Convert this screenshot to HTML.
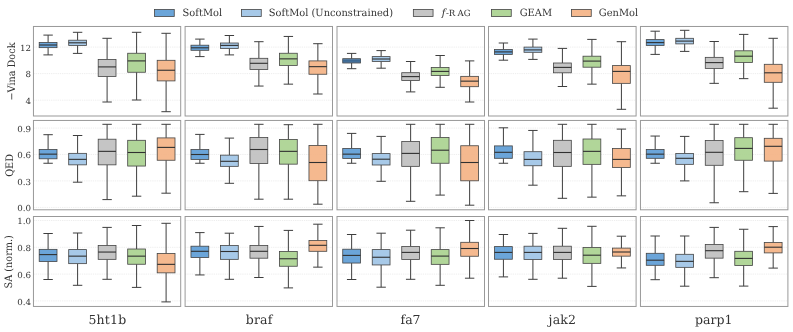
<!DOCTYPE html>
<html><head><meta charset="utf-8"><title>Boxplots</title>
<style>html,body{margin:0;padding:0;background:#fff}svg{display:block;will-change:transform}text{font-family:"DejaVu Serif","Liberation Serif",serif;fill:#333;text-rendering:geometricPrecision}.tk{font-size:8.4px;text-anchor:end;text-rendering:geometricPrecision}.yl{font-size:10px;text-anchor:middle}.xl{font-size:12.5px;text-anchor:middle}.lg{font-size:10.1px}</style></head><body>
<svg width="793" height="332" viewBox="0 0 793 332">
<rect width="793" height="332" fill="#fff"/>
<rect x="154.55" y="9.5" width="19.7" height="7" fill="#5B9BD5" fill-opacity="0.9" stroke="#444" stroke-width="0.8"/>
<text class="lg" transform="translate(182.60000000000002,16.45) scale(0.978,1)">SoftMol</text>
<rect x="241.55" y="9.5" width="19.7" height="7" fill="#9DC3E6" fill-opacity="0.9" stroke="#444" stroke-width="0.8"/>
<text class="lg" transform="translate(268.8,16.45) scale(0.978,1)">SoftMol (Unconstrained)</text>
<rect x="413.35" y="9.5" width="19.7" height="7" fill="#BFBFBF" fill-opacity="0.9" stroke="#444" stroke-width="0.8"/>
<text class="lg" y="16.0"><tspan x="441.7" y="16.2" font-style="italic" font-size="10px">f</tspan><tspan x="445.9 448.7 457.6 463.8" y="16.0" font-size="8.6px">-RAG</tspan></text>
<rect x="491.55" y="9.5" width="19.7" height="7" fill="#A9D18E" fill-opacity="0.9" stroke="#444" stroke-width="0.8"/>
<text class="lg" transform="translate(519.6999999999999,16.45) scale(0.978,1)">GEAM</text>
<rect x="571.55" y="9.5" width="19.7" height="7" fill="#F4B183" fill-opacity="0.9" stroke="#444" stroke-width="0.8"/>
<text class="lg" transform="translate(598.8,16.45) scale(0.978,1)">GenMol</text>
<text class="tk" transform="translate(31.1,50.95) scale(1.04,1)">12</text>
<text class="tk" transform="translate(31.1,77.45) scale(1.04,1)">8</text>
<text class="tk" transform="translate(31.1,104.05) scale(1.04,1)">4</text>
<text class="yl" transform="translate(14.6,71.53) rotate(-90) scale(0.97,1.03)">−Vina Dock</text>
<line x1="33.45" x2="180.70" y1="47.10" y2="47.10" stroke="#dcdcdc" stroke-width="0.5" stroke-dasharray="1.3,0.9"/>
<line x1="33.45" x2="180.70" y1="73.60" y2="73.60" stroke="#dcdcdc" stroke-width="0.5" stroke-dasharray="1.3,0.9"/>
<line x1="33.45" x2="180.70" y1="100.20" y2="100.20" stroke="#dcdcdc" stroke-width="0.5" stroke-dasharray="1.3,0.9"/>
<g stroke="#3e3e3e" stroke-width="1" fill="none"><path d="M48.10 35.10V42.40M48.10 47.65V54.90M43.40 35.10H52.80M43.40 54.90H52.80"/></g>
<rect x="39.20" y="42.40" width="17.8" height="5.25" fill="#5B9BD5" fill-opacity="0.9" stroke="#444" stroke-width="0.8"/>
<line x1="39.20" x2="57.00" y1="45.00" y2="45.00" stroke="#303030" stroke-width="1.1"/>
<g stroke="#3e3e3e" stroke-width="1" fill="none"><path d="M77.60 32.30V40.20M77.60 45.40V53.40M72.90 32.30H82.30M72.90 53.40H82.30"/></g>
<rect x="68.70" y="40.20" width="17.8" height="5.20" fill="#9DC3E6" fill-opacity="0.9" stroke="#444" stroke-width="0.8"/>
<line x1="68.70" x2="86.50" y1="42.80" y2="42.80" stroke="#303030" stroke-width="1.1"/>
<g stroke="#3e3e3e" stroke-width="1" fill="none"><path d="M107.10 38.30V59.40M107.10 76.45V102.00M102.40 38.30H111.80M102.40 102.00H111.80"/></g>
<rect x="98.20" y="59.40" width="17.8" height="17.05" fill="#BFBFBF" fill-opacity="0.9" stroke="#444" stroke-width="0.8"/>
<line x1="98.20" x2="116.00" y1="66.90" y2="66.90" stroke="#303030" stroke-width="1.1"/>
<g stroke="#3e3e3e" stroke-width="1" fill="none"><path d="M136.60 32.30V53.25M136.60 72.25V100.00M131.90 32.30H141.30M131.90 100.00H141.30"/></g>
<rect x="127.70" y="53.25" width="17.8" height="19.00" fill="#A9D18E" fill-opacity="0.9" stroke="#444" stroke-width="0.8"/>
<line x1="127.70" x2="145.50" y1="60.90" y2="60.90" stroke="#303030" stroke-width="1.1"/>
<g stroke="#3e3e3e" stroke-width="1" fill="none"><path d="M166.10 33.30V60.30M166.10 80.90V111.70M161.40 33.30H170.80M161.40 111.70H170.80"/></g>
<rect x="157.20" y="60.30" width="17.8" height="20.60" fill="#F4B183" fill-opacity="0.9" stroke="#444" stroke-width="0.8"/>
<line x1="157.20" x2="175.00" y1="70.25" y2="70.25" stroke="#303030" stroke-width="1.1"/>
<rect x="33.45" y="26.47" width="147.25" height="89.53" fill="none" stroke="#999" stroke-width="1"/>
<line x1="185.10" x2="332.50" y1="47.10" y2="47.10" stroke="#dcdcdc" stroke-width="0.5" stroke-dasharray="1.3,0.9"/>
<line x1="185.10" x2="332.50" y1="73.60" y2="73.60" stroke="#dcdcdc" stroke-width="0.5" stroke-dasharray="1.3,0.9"/>
<line x1="185.10" x2="332.50" y1="100.20" y2="100.20" stroke="#dcdcdc" stroke-width="0.5" stroke-dasharray="1.3,0.9"/>
<g stroke="#3e3e3e" stroke-width="1" fill="none"><path d="M199.87 39.10V45.20M199.87 50.30V56.60M195.17 39.10H204.57M195.17 56.60H204.57"/></g>
<rect x="190.97" y="45.20" width="17.8" height="5.10" fill="#5B9BD5" fill-opacity="0.9" stroke="#444" stroke-width="0.8"/>
<line x1="190.97" x2="208.77" y1="47.80" y2="47.80" stroke="#303030" stroke-width="1.1"/>
<g stroke="#3e3e3e" stroke-width="1" fill="none"><path d="M229.37 35.50V43.00M229.37 48.40V54.90M224.67 35.50H234.07M224.67 54.90H234.07"/></g>
<rect x="220.47" y="43.00" width="17.8" height="5.40" fill="#9DC3E6" fill-opacity="0.9" stroke="#444" stroke-width="0.8"/>
<line x1="220.47" x2="238.27" y1="45.40" y2="45.40" stroke="#303030" stroke-width="1.1"/>
<g stroke="#3e3e3e" stroke-width="1" fill="none"><path d="M258.87 41.70V58.30M258.87 69.50V86.05M254.17 41.70H263.57M254.17 86.05H263.57"/></g>
<rect x="249.97" y="58.30" width="17.8" height="11.20" fill="#BFBFBF" fill-opacity="0.9" stroke="#444" stroke-width="0.8"/>
<line x1="249.97" x2="267.77" y1="63.30" y2="63.30" stroke="#303030" stroke-width="1.1"/>
<g stroke="#3e3e3e" stroke-width="1" fill="none"><path d="M288.37 36.45V53.25M288.37 65.40V84.15M283.67 36.45H293.07M283.67 84.15H293.07"/></g>
<rect x="279.47" y="53.25" width="17.8" height="12.15" fill="#A9D18E" fill-opacity="0.9" stroke="#444" stroke-width="0.8"/>
<line x1="279.47" x2="297.27" y1="58.85" y2="58.85" stroke="#303030" stroke-width="1.1"/>
<g stroke="#3e3e3e" stroke-width="1" fill="none"><path d="M317.87 43.70V60.90M317.87 74.25V94.00M313.17 43.70H322.57M313.17 94.00H322.57"/></g>
<rect x="308.97" y="60.90" width="17.8" height="13.35" fill="#F4B183" fill-opacity="0.9" stroke="#444" stroke-width="0.8"/>
<line x1="308.97" x2="326.77" y1="66.65" y2="66.65" stroke="#303030" stroke-width="1.1"/>
<rect x="185.10" y="26.47" width="147.40" height="89.53" fill="none" stroke="#999" stroke-width="1"/>
<line x1="337.00" x2="484.50" y1="47.10" y2="47.10" stroke="#dcdcdc" stroke-width="0.5" stroke-dasharray="1.3,0.9"/>
<line x1="337.00" x2="484.50" y1="73.60" y2="73.60" stroke="#dcdcdc" stroke-width="0.5" stroke-dasharray="1.3,0.9"/>
<line x1="337.00" x2="484.50" y1="100.20" y2="100.20" stroke="#dcdcdc" stroke-width="0.5" stroke-dasharray="1.3,0.9"/>
<g stroke="#3e3e3e" stroke-width="1" fill="none"><path d="M351.64 53.40V58.70M351.64 63.00V68.70M346.94 53.40H356.34M346.94 68.70H356.34"/></g>
<rect x="342.74" y="58.70" width="17.8" height="4.30" fill="#42719f" fill-opacity="0.9" stroke="#444" stroke-width="0.8"/>
<line x1="342.74" x2="360.54" y1="60.90" y2="60.90" stroke="#3b6791" stroke-width="1.6"/>
<g stroke="#3e3e3e" stroke-width="1" fill="none"><path d="M381.14 50.60V56.60M381.14 61.50V68.20M376.44 50.60H385.84M376.44 68.20H385.84"/></g>
<rect x="372.24" y="56.60" width="17.8" height="4.90" fill="#9DC3E6" fill-opacity="0.9" stroke="#444" stroke-width="0.8"/>
<line x1="372.24" x2="390.04" y1="59.00" y2="59.00" stroke="#303030" stroke-width="1.1"/>
<g stroke="#3e3e3e" stroke-width="1" fill="none"><path d="M410.64 61.50V72.70M410.64 80.50V91.90M405.94 61.50H415.34M405.94 91.90H415.34"/></g>
<rect x="401.74" y="72.70" width="17.8" height="7.80" fill="#BFBFBF" fill-opacity="0.9" stroke="#444" stroke-width="0.8"/>
<line x1="401.74" x2="419.54" y1="76.60" y2="76.60" stroke="#303030" stroke-width="1.1"/>
<g stroke="#3e3e3e" stroke-width="1" fill="none"><path d="M440.14 55.50V67.40M440.14 75.50V87.30M435.44 55.50H444.84M435.44 87.30H444.84"/></g>
<rect x="431.24" y="67.40" width="17.8" height="8.10" fill="#A9D18E" fill-opacity="0.9" stroke="#444" stroke-width="0.8"/>
<line x1="431.24" x2="449.04" y1="71.40" y2="71.40" stroke="#303030" stroke-width="1.1"/>
<g stroke="#3e3e3e" stroke-width="1" fill="none"><path d="M469.64 60.90V76.35M469.64 86.70V102.00M464.94 60.90H474.34M464.94 102.00H474.34"/></g>
<rect x="460.74" y="76.35" width="17.8" height="10.35" fill="#F4B183" fill-opacity="0.9" stroke="#444" stroke-width="0.8"/>
<line x1="460.74" x2="478.54" y1="81.15" y2="81.15" stroke="#303030" stroke-width="1.1"/>
<rect x="337.00" y="26.47" width="147.50" height="89.53" fill="none" stroke="#999" stroke-width="1"/>
<line x1="488.50" x2="636.10" y1="47.10" y2="47.10" stroke="#dcdcdc" stroke-width="0.5" stroke-dasharray="1.3,0.9"/>
<line x1="488.50" x2="636.10" y1="73.60" y2="73.60" stroke="#dcdcdc" stroke-width="0.5" stroke-dasharray="1.3,0.9"/>
<line x1="488.50" x2="636.10" y1="100.20" y2="100.20" stroke="#dcdcdc" stroke-width="0.5" stroke-dasharray="1.3,0.9"/>
<g stroke="#3e3e3e" stroke-width="1" fill="none"><path d="M503.41 43.00V49.50M503.41 54.40V60.20M498.71 43.00H508.11M498.71 60.20H508.11"/></g>
<rect x="494.51" y="49.50" width="17.8" height="4.90" fill="#5B9BD5" fill-opacity="0.9" stroke="#444" stroke-width="0.8"/>
<line x1="494.51" x2="512.31" y1="51.90" y2="51.90" stroke="#303030" stroke-width="1.1"/>
<g stroke="#3e3e3e" stroke-width="1" fill="none"><path d="M532.91 39.10V47.10M532.91 52.30V59.40M528.21 39.10H537.61M528.21 59.40H537.61"/></g>
<rect x="524.01" y="47.10" width="17.8" height="5.20" fill="#9DC3E6" fill-opacity="0.9" stroke="#444" stroke-width="0.8"/>
<line x1="524.01" x2="541.81" y1="49.90" y2="49.90" stroke="#303030" stroke-width="1.1"/>
<g stroke="#3e3e3e" stroke-width="1" fill="none"><path d="M562.41 48.40V63.00M562.41 72.80V86.50M557.71 48.40H567.11M557.71 86.50H567.11"/></g>
<rect x="553.51" y="63.00" width="17.8" height="9.80" fill="#BFBFBF" fill-opacity="0.9" stroke="#444" stroke-width="0.8"/>
<line x1="553.51" x2="571.31" y1="67.40" y2="67.40" stroke="#303030" stroke-width="1.1"/>
<g stroke="#3e3e3e" stroke-width="1" fill="none"><path d="M591.91 39.40V56.20M591.91 67.20V84.15M587.21 39.40H596.61M587.21 84.15H596.61"/></g>
<rect x="583.01" y="56.20" width="17.8" height="11.00" fill="#A9D18E" fill-opacity="0.9" stroke="#444" stroke-width="0.8"/>
<line x1="583.01" x2="600.81" y1="61.10" y2="61.10" stroke="#303030" stroke-width="1.1"/>
<g stroke="#3e3e3e" stroke-width="1" fill="none"><path d="M621.41 41.70V65.60M621.41 83.35V109.30M616.71 41.70H626.11M616.71 109.30H626.11"/></g>
<rect x="612.51" y="65.60" width="17.8" height="17.75" fill="#F4B183" fill-opacity="0.9" stroke="#444" stroke-width="0.8"/>
<line x1="612.51" x2="630.31" y1="71.40" y2="71.40" stroke="#303030" stroke-width="1.1"/>
<rect x="488.50" y="26.47" width="147.60" height="89.53" fill="none" stroke="#999" stroke-width="1"/>
<line x1="640.45" x2="787.90" y1="47.10" y2="47.10" stroke="#dcdcdc" stroke-width="0.5" stroke-dasharray="1.3,0.9"/>
<line x1="640.45" x2="787.90" y1="73.60" y2="73.60" stroke="#dcdcdc" stroke-width="0.5" stroke-dasharray="1.3,0.9"/>
<line x1="640.45" x2="787.90" y1="100.20" y2="100.20" stroke="#dcdcdc" stroke-width="0.5" stroke-dasharray="1.3,0.9"/>
<g stroke="#3e3e3e" stroke-width="1" fill="none"><path d="M655.18 31.20V39.60M655.18 45.40V54.40M650.48 31.20H659.88M650.48 54.40H659.88"/></g>
<rect x="646.28" y="39.60" width="17.8" height="5.80" fill="#5B9BD5" fill-opacity="0.9" stroke="#444" stroke-width="0.8"/>
<line x1="646.28" x2="664.08" y1="42.60" y2="42.60" stroke="#303030" stroke-width="1.1"/>
<g stroke="#3e3e3e" stroke-width="1" fill="none"><path d="M684.68 30.30V38.30M684.68 43.90V51.40M679.98 30.30H689.38M679.98 51.40H689.38"/></g>
<rect x="675.78" y="38.30" width="17.8" height="5.60" fill="#9DC3E6" fill-opacity="0.9" stroke="#444" stroke-width="0.8"/>
<line x1="675.78" x2="693.58" y1="41.10" y2="41.10" stroke="#303030" stroke-width="1.1"/>
<g stroke="#3e3e3e" stroke-width="1" fill="none"><path d="M714.18 41.50V57.35M714.18 68.40V83.35M709.48 41.50H718.88M709.48 83.35H718.88"/></g>
<rect x="705.28" y="57.35" width="17.8" height="11.05" fill="#BFBFBF" fill-opacity="0.9" stroke="#444" stroke-width="0.8"/>
<line x1="705.28" x2="723.08" y1="62.60" y2="62.60" stroke="#303030" stroke-width="1.1"/>
<g stroke="#3e3e3e" stroke-width="1" fill="none"><path d="M743.68 34.40V50.80M743.68 62.40V78.65M738.98 34.40H748.38M738.98 78.65H748.38"/></g>
<rect x="734.78" y="50.80" width="17.8" height="11.60" fill="#A9D18E" fill-opacity="0.9" stroke="#444" stroke-width="0.8"/>
<line x1="734.78" x2="752.58" y1="56.20" y2="56.20" stroke="#303030" stroke-width="1.1"/>
<g stroke="#3e3e3e" stroke-width="1" fill="none"><path d="M773.18 38.30V64.30M773.18 82.30V108.20M768.48 38.30H777.88M768.48 108.20H777.88"/></g>
<rect x="764.28" y="64.30" width="17.8" height="18.00" fill="#F4B183" fill-opacity="0.9" stroke="#444" stroke-width="0.8"/>
<line x1="764.28" x2="782.08" y1="72.80" y2="72.80" stroke="#303030" stroke-width="1.1"/>
<rect x="640.45" y="26.47" width="147.45" height="89.53" fill="none" stroke="#999" stroke-width="1"/>
<text class="tk" transform="translate(31.1,131.95) scale(1.04,1)">0.9</text>
<text class="tk" transform="translate(31.1,158.30) scale(1.04,1)">0.6</text>
<text class="tk" transform="translate(31.1,184.75) scale(1.04,1)">0.3</text>
<text class="tk" transform="translate(31.1,211.25) scale(1.04,1)">0.0</text>
<text class="yl" transform="translate(12.7,165.43) rotate(-90) scale(0.97,1.03)">QED</text>
<line x1="33.45" x2="180.70" y1="128.10" y2="128.10" stroke="#dcdcdc" stroke-width="0.5" stroke-dasharray="1.3,0.9"/>
<line x1="33.45" x2="180.70" y1="154.45" y2="154.45" stroke="#dcdcdc" stroke-width="0.5" stroke-dasharray="1.3,0.9"/>
<line x1="33.45" x2="180.70" y1="180.90" y2="180.90" stroke="#dcdcdc" stroke-width="0.5" stroke-dasharray="1.3,0.9"/>
<line x1="33.45" x2="180.70" y1="207.40" y2="207.40" stroke="#dcdcdc" stroke-width="0.5" stroke-dasharray="1.3,0.9"/>
<g stroke="#3e3e3e" stroke-width="1" fill="none"><path d="M48.10 134.70V149.50M48.10 158.80V163.25M43.40 134.70H52.80M43.40 163.25H52.80"/></g>
<rect x="39.20" y="149.50" width="17.8" height="9.30" fill="#5B9BD5" fill-opacity="0.9" stroke="#444" stroke-width="0.8"/>
<line x1="39.20" x2="57.00" y1="154.15" y2="154.15" stroke="#303030" stroke-width="1.1"/>
<g stroke="#3e3e3e" stroke-width="1" fill="none"><path d="M77.60 135.50V153.35M77.60 164.85V182.20M72.90 135.50H82.30M72.90 182.20H82.30"/></g>
<rect x="68.70" y="153.35" width="17.8" height="11.50" fill="#9DC3E6" fill-opacity="0.9" stroke="#444" stroke-width="0.8"/>
<line x1="68.70" x2="86.50" y1="159.35" y2="159.35" stroke="#303030" stroke-width="1.1"/>
<g stroke="#3e3e3e" stroke-width="1" fill="none"><path d="M107.10 124.30V139.20M107.10 164.85V199.60M102.40 124.30H111.80M102.40 199.60H111.80"/></g>
<rect x="98.20" y="139.20" width="17.8" height="25.65" fill="#BFBFBF" fill-opacity="0.9" stroke="#444" stroke-width="0.8"/>
<line x1="98.20" x2="116.00" y1="151.35" y2="151.35" stroke="#303030" stroke-width="1.1"/>
<g stroke="#3e3e3e" stroke-width="1" fill="none"><path d="M136.60 124.30V140.30M136.60 166.05V196.20M131.90 124.30H141.30M131.90 196.20H141.30"/></g>
<rect x="127.70" y="140.30" width="17.8" height="25.75" fill="#A9D18E" fill-opacity="0.9" stroke="#444" stroke-width="0.8"/>
<line x1="127.70" x2="145.50" y1="152.50" y2="152.50" stroke="#303030" stroke-width="1.1"/>
<g stroke="#3e3e3e" stroke-width="1" fill="none"><path d="M166.10 124.30V137.90M166.10 160.25V193.20M161.40 124.30H170.80M161.40 193.20H170.80"/></g>
<rect x="157.20" y="137.90" width="17.8" height="22.35" fill="#F4B183" fill-opacity="0.9" stroke="#444" stroke-width="0.8"/>
<line x1="157.20" x2="175.00" y1="147.40" y2="147.40" stroke="#303030" stroke-width="1.1"/>
<rect x="33.45" y="120.45" width="147.25" height="89.35" fill="none" stroke="#999" stroke-width="1"/>
<line x1="185.10" x2="332.50" y1="128.10" y2="128.10" stroke="#dcdcdc" stroke-width="0.5" stroke-dasharray="1.3,0.9"/>
<line x1="185.10" x2="332.50" y1="154.45" y2="154.45" stroke="#dcdcdc" stroke-width="0.5" stroke-dasharray="1.3,0.9"/>
<line x1="185.10" x2="332.50" y1="180.90" y2="180.90" stroke="#dcdcdc" stroke-width="0.5" stroke-dasharray="1.3,0.9"/>
<line x1="185.10" x2="332.50" y1="207.40" y2="207.40" stroke="#dcdcdc" stroke-width="0.5" stroke-dasharray="1.3,0.9"/>
<g stroke="#3e3e3e" stroke-width="1" fill="none"><path d="M199.87 134.40V149.50M199.87 159.40V163.25M195.17 134.40H204.57M195.17 163.25H204.57"/></g>
<rect x="190.97" y="149.50" width="17.8" height="9.90" fill="#5B9BD5" fill-opacity="0.9" stroke="#444" stroke-width="0.8"/>
<line x1="190.97" x2="208.77" y1="154.50" y2="154.50" stroke="#303030" stroke-width="1.1"/>
<g stroke="#3e3e3e" stroke-width="1" fill="none"><path d="M229.37 138.10V155.15M229.37 166.35V183.30M224.67 138.10H234.07M224.67 183.30H234.07"/></g>
<rect x="220.47" y="155.15" width="17.8" height="11.20" fill="#9DC3E6" fill-opacity="0.9" stroke="#444" stroke-width="0.8"/>
<line x1="220.47" x2="238.27" y1="161.30" y2="161.30" stroke="#303030" stroke-width="1.1"/>
<g stroke="#3e3e3e" stroke-width="1" fill="none"><path d="M258.87 124.30V137.50M258.87 163.55V199.20M254.17 124.30H263.57M254.17 199.20H263.57"/></g>
<rect x="249.97" y="137.50" width="17.8" height="26.05" fill="#BFBFBF" fill-opacity="0.9" stroke="#444" stroke-width="0.8"/>
<line x1="249.97" x2="267.77" y1="149.50" y2="149.50" stroke="#303030" stroke-width="1.1"/>
<g stroke="#3e3e3e" stroke-width="1" fill="none"><path d="M288.37 124.70V139.40M288.37 164.15V199.20M283.67 124.70H293.07M283.67 199.20H293.07"/></g>
<rect x="279.47" y="139.40" width="17.8" height="24.75" fill="#A9D18E" fill-opacity="0.9" stroke="#444" stroke-width="0.8"/>
<line x1="279.47" x2="297.27" y1="151.35" y2="151.35" stroke="#303030" stroke-width="1.1"/>
<g stroke="#3e3e3e" stroke-width="1" fill="none"><path d="M317.87 124.30V145.40M317.87 180.70V204.20M313.17 124.30H322.57M313.17 204.20H322.57"/></g>
<rect x="308.97" y="145.40" width="17.8" height="35.30" fill="#F4B183" fill-opacity="0.9" stroke="#444" stroke-width="0.8"/>
<line x1="308.97" x2="326.77" y1="162.50" y2="162.50" stroke="#303030" stroke-width="1.1"/>
<rect x="185.10" y="120.45" width="147.40" height="89.35" fill="none" stroke="#999" stroke-width="1"/>
<line x1="337.00" x2="484.50" y1="128.10" y2="128.10" stroke="#dcdcdc" stroke-width="0.5" stroke-dasharray="1.3,0.9"/>
<line x1="337.00" x2="484.50" y1="154.45" y2="154.45" stroke="#dcdcdc" stroke-width="0.5" stroke-dasharray="1.3,0.9"/>
<line x1="337.00" x2="484.50" y1="180.90" y2="180.90" stroke="#dcdcdc" stroke-width="0.5" stroke-dasharray="1.3,0.9"/>
<line x1="337.00" x2="484.50" y1="207.40" y2="207.40" stroke="#dcdcdc" stroke-width="0.5" stroke-dasharray="1.3,0.9"/>
<g stroke="#3e3e3e" stroke-width="1" fill="none"><path d="M351.64 133.40V148.40M351.64 158.40V163.25M346.94 133.40H356.34M346.94 163.25H356.34"/></g>
<rect x="342.74" y="148.40" width="17.8" height="10.00" fill="#5B9BD5" fill-opacity="0.9" stroke="#444" stroke-width="0.8"/>
<line x1="342.74" x2="360.54" y1="154.15" y2="154.15" stroke="#303030" stroke-width="1.1"/>
<g stroke="#3e3e3e" stroke-width="1" fill="none"><path d="M381.14 136.40V153.60M381.14 165.00V181.30M376.44 136.40H385.84M376.44 181.30H385.84"/></g>
<rect x="372.24" y="153.60" width="17.8" height="11.40" fill="#9DC3E6" fill-opacity="0.9" stroke="#444" stroke-width="0.8"/>
<line x1="372.24" x2="390.04" y1="159.20" y2="159.20" stroke="#303030" stroke-width="1.1"/>
<g stroke="#3e3e3e" stroke-width="1" fill="none"><path d="M410.64 124.30V141.50M410.64 166.35V201.30M405.94 124.30H415.34M405.94 201.30H415.34"/></g>
<rect x="401.74" y="141.50" width="17.8" height="24.85" fill="#BFBFBF" fill-opacity="0.9" stroke="#444" stroke-width="0.8"/>
<line x1="401.74" x2="419.54" y1="153.40" y2="153.40" stroke="#303030" stroke-width="1.1"/>
<g stroke="#3e3e3e" stroke-width="1" fill="none"><path d="M440.14 124.30V137.50M440.14 163.25V195.10M435.44 124.30H444.84M435.44 195.10H444.84"/></g>
<rect x="431.24" y="137.50" width="17.8" height="25.75" fill="#A9D18E" fill-opacity="0.9" stroke="#444" stroke-width="0.8"/>
<line x1="431.24" x2="449.04" y1="150.20" y2="150.20" stroke="#303030" stroke-width="1.1"/>
<g stroke="#3e3e3e" stroke-width="1" fill="none"><path d="M469.64 124.30V145.75M469.64 180.80V205.20M464.94 124.30H474.34M464.94 205.20H474.34"/></g>
<rect x="460.74" y="145.75" width="17.8" height="35.05" fill="#F4B183" fill-opacity="0.9" stroke="#444" stroke-width="0.8"/>
<line x1="460.74" x2="478.54" y1="162.50" y2="162.50" stroke="#303030" stroke-width="1.1"/>
<rect x="337.00" y="120.45" width="147.50" height="89.35" fill="none" stroke="#999" stroke-width="1"/>
<line x1="488.50" x2="636.10" y1="128.10" y2="128.10" stroke="#dcdcdc" stroke-width="0.5" stroke-dasharray="1.3,0.9"/>
<line x1="488.50" x2="636.10" y1="154.45" y2="154.45" stroke="#dcdcdc" stroke-width="0.5" stroke-dasharray="1.3,0.9"/>
<line x1="488.50" x2="636.10" y1="180.90" y2="180.90" stroke="#dcdcdc" stroke-width="0.5" stroke-dasharray="1.3,0.9"/>
<line x1="488.50" x2="636.10" y1="207.40" y2="207.40" stroke="#dcdcdc" stroke-width="0.5" stroke-dasharray="1.3,0.9"/>
<g stroke="#3e3e3e" stroke-width="1" fill="none"><path d="M503.41 127.80V145.90M503.41 158.30V163.25M498.71 127.80H508.11M498.71 163.25H508.11"/></g>
<rect x="494.51" y="145.90" width="17.8" height="12.40" fill="#5B9BD5" fill-opacity="0.9" stroke="#444" stroke-width="0.8"/>
<line x1="494.51" x2="512.31" y1="152.30" y2="152.30" stroke="#303030" stroke-width="1.1"/>
<g stroke="#3e3e3e" stroke-width="1" fill="none"><path d="M532.91 130.45V151.70M532.91 165.75V185.20M528.21 130.45H537.61M528.21 185.20H537.61"/></g>
<rect x="524.01" y="151.70" width="17.8" height="14.05" fill="#9DC3E6" fill-opacity="0.9" stroke="#444" stroke-width="0.8"/>
<line x1="524.01" x2="541.81" y1="159.40" y2="159.40" stroke="#303030" stroke-width="1.1"/>
<g stroke="#3e3e3e" stroke-width="1" fill="none"><path d="M562.41 124.30V140.30M562.41 166.35V198.30M557.71 124.30H567.11M557.71 198.30H567.11"/></g>
<rect x="553.51" y="140.30" width="17.8" height="26.05" fill="#BFBFBF" fill-opacity="0.9" stroke="#444" stroke-width="0.8"/>
<line x1="553.51" x2="571.31" y1="152.50" y2="152.50" stroke="#303030" stroke-width="1.1"/>
<g stroke="#3e3e3e" stroke-width="1" fill="none"><path d="M591.91 124.30V139.00M591.91 164.35V197.15M587.21 124.30H596.61M587.21 197.15H596.61"/></g>
<rect x="583.01" y="139.00" width="17.8" height="25.35" fill="#A9D18E" fill-opacity="0.9" stroke="#444" stroke-width="0.8"/>
<line x1="583.01" x2="600.81" y1="151.35" y2="151.35" stroke="#303030" stroke-width="1.1"/>
<g stroke="#3e3e3e" stroke-width="1" fill="none"><path d="M621.41 129.10V148.55M621.41 167.55V195.85M616.71 129.10H626.11M616.71 195.85H626.11"/></g>
<rect x="612.51" y="148.55" width="17.8" height="19.00" fill="#F4B183" fill-opacity="0.9" stroke="#444" stroke-width="0.8"/>
<line x1="612.51" x2="630.31" y1="159.40" y2="159.40" stroke="#303030" stroke-width="1.1"/>
<rect x="488.50" y="120.45" width="147.60" height="89.35" fill="none" stroke="#999" stroke-width="1"/>
<line x1="640.45" x2="787.90" y1="128.10" y2="128.10" stroke="#dcdcdc" stroke-width="0.5" stroke-dasharray="1.3,0.9"/>
<line x1="640.45" x2="787.90" y1="154.45" y2="154.45" stroke="#dcdcdc" stroke-width="0.5" stroke-dasharray="1.3,0.9"/>
<line x1="640.45" x2="787.90" y1="180.90" y2="180.90" stroke="#dcdcdc" stroke-width="0.5" stroke-dasharray="1.3,0.9"/>
<line x1="640.45" x2="787.90" y1="207.40" y2="207.40" stroke="#dcdcdc" stroke-width="0.5" stroke-dasharray="1.3,0.9"/>
<g stroke="#3e3e3e" stroke-width="1" fill="none"><path d="M655.18 136.05V149.50M655.18 158.30V163.25M650.48 136.05H659.88M650.48 163.25H659.88"/></g>
<rect x="646.28" y="149.50" width="17.8" height="8.80" fill="#5B9BD5" fill-opacity="0.9" stroke="#444" stroke-width="0.8"/>
<line x1="646.28" x2="664.08" y1="154.15" y2="154.15" stroke="#303030" stroke-width="1.1"/>
<g stroke="#3e3e3e" stroke-width="1" fill="none"><path d="M684.68 136.40V153.40M684.68 164.35V180.90M679.98 136.40H689.38M679.98 180.90H689.38"/></g>
<rect x="675.78" y="153.40" width="17.8" height="10.95" fill="#9DC3E6" fill-opacity="0.9" stroke="#444" stroke-width="0.8"/>
<line x1="675.78" x2="693.58" y1="158.30" y2="158.30" stroke="#303030" stroke-width="1.1"/>
<g stroke="#3e3e3e" stroke-width="1" fill="none"><path d="M714.18 124.30V140.50M714.18 165.30V202.75M709.48 124.30H718.88M709.48 202.75H718.88"/></g>
<rect x="705.28" y="140.50" width="17.8" height="24.80" fill="#BFBFBF" fill-opacity="0.9" stroke="#444" stroke-width="0.8"/>
<line x1="705.28" x2="723.08" y1="152.30" y2="152.30" stroke="#303030" stroke-width="1.1"/>
<g stroke="#3e3e3e" stroke-width="1" fill="none"><path d="M743.68 124.30V137.70M743.68 160.25V191.70M738.98 124.30H748.38M738.98 191.70H748.38"/></g>
<rect x="734.78" y="137.70" width="17.8" height="22.55" fill="#A9D18E" fill-opacity="0.9" stroke="#444" stroke-width="0.8"/>
<line x1="734.78" x2="752.58" y1="148.40" y2="148.40" stroke="#303030" stroke-width="1.1"/>
<g stroke="#3e3e3e" stroke-width="1" fill="none"><path d="M773.18 124.30V138.30M773.18 161.10V193.40M768.48 124.30H777.88M768.48 193.40H777.88"/></g>
<rect x="764.28" y="138.30" width="17.8" height="22.80" fill="#F4B183" fill-opacity="0.9" stroke="#444" stroke-width="0.8"/>
<line x1="764.28" x2="782.08" y1="146.30" y2="146.30" stroke="#303030" stroke-width="1.1"/>
<rect x="640.45" y="120.45" width="147.45" height="89.35" fill="none" stroke="#999" stroke-width="1"/>
<text class="tk" transform="translate(31.1,224.35) scale(1.04,1)">1.0</text>
<text class="tk" transform="translate(31.1,251.15) scale(1.04,1)">0.8</text>
<text class="tk" transform="translate(31.1,277.95) scale(1.04,1)">0.6</text>
<text class="tk" transform="translate(31.1,304.75) scale(1.04,1)">0.4</text>
<text class="yl" transform="translate(12.2,261.78) rotate(-90) scale(0.97,1.03)">SA (norm.)</text>
<line x1="33.45" x2="180.70" y1="220.50" y2="220.50" stroke="#dcdcdc" stroke-width="0.5" stroke-dasharray="1.3,0.9"/>
<line x1="33.45" x2="180.70" y1="247.30" y2="247.30" stroke="#dcdcdc" stroke-width="0.5" stroke-dasharray="1.3,0.9"/>
<line x1="33.45" x2="180.70" y1="274.10" y2="274.10" stroke="#dcdcdc" stroke-width="0.5" stroke-dasharray="1.3,0.9"/>
<line x1="33.45" x2="180.70" y1="300.90" y2="300.90" stroke="#dcdcdc" stroke-width="0.5" stroke-dasharray="1.3,0.9"/>
<g stroke="#3e3e3e" stroke-width="1" fill="none"><path d="M48.10 233.50V249.35M48.10 261.50V279.50M43.40 233.50H52.80M43.40 279.50H52.80"/></g>
<rect x="39.20" y="249.35" width="17.8" height="12.15" fill="#5B9BD5" fill-opacity="0.9" stroke="#444" stroke-width="0.8"/>
<line x1="39.20" x2="57.00" y1="254.60" y2="254.60" stroke="#303030" stroke-width="1.1"/>
<g stroke="#3e3e3e" stroke-width="1" fill="none"><path d="M77.60 233.00V249.60M77.60 263.65V285.30M72.90 233.00H82.30M72.90 285.30H82.30"/></g>
<rect x="68.70" y="249.60" width="17.8" height="14.05" fill="#9DC3E6" fill-opacity="0.9" stroke="#444" stroke-width="0.8"/>
<line x1="68.70" x2="86.50" y1="256.15" y2="256.15" stroke="#303030" stroke-width="1.1"/>
<g stroke="#3e3e3e" stroke-width="1" fill="none"><path d="M107.10 227.40V245.50M107.10 259.35V279.30M102.40 227.40H111.80M102.40 279.30H111.80"/></g>
<rect x="98.20" y="245.50" width="17.8" height="13.85" fill="#BFBFBF" fill-opacity="0.9" stroke="#444" stroke-width="0.8"/>
<line x1="98.20" x2="116.00" y1="252.05" y2="252.05" stroke="#303030" stroke-width="1.1"/>
<g stroke="#3e3e3e" stroke-width="1" fill="none"><path d="M136.60 225.50V249.00M136.60 264.25V287.40M131.90 225.50H141.30M131.90 287.40H141.30"/></g>
<rect x="127.70" y="249.00" width="17.8" height="15.25" fill="#A9D18E" fill-opacity="0.9" stroke="#444" stroke-width="0.8"/>
<line x1="127.70" x2="145.50" y1="256.15" y2="256.15" stroke="#303030" stroke-width="1.1"/>
<g stroke="#3e3e3e" stroke-width="1" fill="none"><path d="M166.10 223.30V253.45M166.10 272.85V301.90M161.40 223.30H170.80M161.40 301.90H170.80"/></g>
<rect x="157.20" y="253.45" width="17.8" height="19.40" fill="#F4B183" fill-opacity="0.9" stroke="#444" stroke-width="0.8"/>
<line x1="157.20" x2="175.00" y1="264.35" y2="264.35" stroke="#303030" stroke-width="1.1"/>
<rect x="33.45" y="216.50" width="147.25" height="89.95" fill="none" stroke="#999" stroke-width="1"/>
<line x1="185.10" x2="332.50" y1="220.50" y2="220.50" stroke="#dcdcdc" stroke-width="0.5" stroke-dasharray="1.3,0.9"/>
<line x1="185.10" x2="332.50" y1="247.30" y2="247.30" stroke="#dcdcdc" stroke-width="0.5" stroke-dasharray="1.3,0.9"/>
<line x1="185.10" x2="332.50" y1="274.10" y2="274.10" stroke="#dcdcdc" stroke-width="0.5" stroke-dasharray="1.3,0.9"/>
<line x1="185.10" x2="332.50" y1="300.90" y2="300.90" stroke="#dcdcdc" stroke-width="0.5" stroke-dasharray="1.3,0.9"/>
<g stroke="#3e3e3e" stroke-width="1" fill="none"><path d="M199.87 232.60V246.20M199.87 257.55V274.95M195.17 232.60H204.57M195.17 274.95H204.57"/></g>
<rect x="190.97" y="246.20" width="17.8" height="11.35" fill="#5B9BD5" fill-opacity="0.9" stroke="#444" stroke-width="0.8"/>
<line x1="190.97" x2="208.77" y1="251.30" y2="251.30" stroke="#303030" stroke-width="1.1"/>
<g stroke="#3e3e3e" stroke-width="1" fill="none"><path d="M229.37 233.20V245.50M229.37 259.35V279.30M224.67 233.20H234.07M224.67 279.30H234.07"/></g>
<rect x="220.47" y="245.50" width="17.8" height="13.85" fill="#9DC3E6" fill-opacity="0.9" stroke="#444" stroke-width="0.8"/>
<line x1="220.47" x2="238.27" y1="251.50" y2="251.50" stroke="#303030" stroke-width="1.1"/>
<g stroke="#3e3e3e" stroke-width="1" fill="none"><path d="M258.87 226.45V245.50M258.87 258.20V277.50M254.17 226.45H263.57M254.17 277.50H263.57"/></g>
<rect x="249.97" y="245.50" width="17.8" height="12.70" fill="#BFBFBF" fill-opacity="0.9" stroke="#444" stroke-width="0.8"/>
<line x1="249.97" x2="267.77" y1="251.30" y2="251.30" stroke="#303030" stroke-width="1.1"/>
<g stroke="#3e3e3e" stroke-width="1" fill="none"><path d="M288.37 230.40V251.50M288.37 266.25V287.90M283.67 230.40H293.07M283.67 287.90H293.07"/></g>
<rect x="279.47" y="251.50" width="17.8" height="14.75" fill="#A9D18E" fill-opacity="0.9" stroke="#444" stroke-width="0.8"/>
<line x1="279.47" x2="297.27" y1="258.75" y2="258.75" stroke="#303030" stroke-width="1.1"/>
<g stroke="#3e3e3e" stroke-width="1" fill="none"><path d="M317.87 224.20V240.45M317.87 251.30V267.15M313.17 224.20H322.57M313.17 267.15H322.57"/></g>
<rect x="308.97" y="240.45" width="17.8" height="10.85" fill="#F4B183" fill-opacity="0.9" stroke="#444" stroke-width="0.8"/>
<line x1="308.97" x2="326.77" y1="245.30" y2="245.30" stroke="#303030" stroke-width="1.1"/>
<rect x="185.10" y="216.50" width="147.40" height="89.95" fill="none" stroke="#999" stroke-width="1"/>
<line x1="337.00" x2="484.50" y1="220.50" y2="220.50" stroke="#dcdcdc" stroke-width="0.5" stroke-dasharray="1.3,0.9"/>
<line x1="337.00" x2="484.50" y1="247.30" y2="247.30" stroke="#dcdcdc" stroke-width="0.5" stroke-dasharray="1.3,0.9"/>
<line x1="337.00" x2="484.50" y1="274.10" y2="274.10" stroke="#dcdcdc" stroke-width="0.5" stroke-dasharray="1.3,0.9"/>
<line x1="337.00" x2="484.50" y1="300.90" y2="300.90" stroke="#dcdcdc" stroke-width="0.5" stroke-dasharray="1.3,0.9"/>
<g stroke="#3e3e3e" stroke-width="1" fill="none"><path d="M351.64 234.50V249.20M351.64 263.05V279.50M346.94 234.50H356.34M346.94 279.50H356.34"/></g>
<rect x="342.74" y="249.20" width="17.8" height="13.85" fill="#5B9BD5" fill-opacity="0.9" stroke="#444" stroke-width="0.8"/>
<line x1="342.74" x2="360.54" y1="255.40" y2="255.40" stroke="#303030" stroke-width="1.1"/>
<g stroke="#3e3e3e" stroke-width="1" fill="none"><path d="M381.14 233.20V249.60M381.14 264.95V287.20M376.44 233.20H385.84M376.44 287.20H385.84"/></g>
<rect x="372.24" y="249.60" width="17.8" height="15.35" fill="#9DC3E6" fill-opacity="0.9" stroke="#444" stroke-width="0.8"/>
<line x1="372.24" x2="390.04" y1="257.25" y2="257.25" stroke="#303030" stroke-width="1.1"/>
<g stroke="#3e3e3e" stroke-width="1" fill="none"><path d="M410.64 230.20V246.40M410.64 259.55V279.30M405.94 230.20H415.34M405.94 279.30H415.34"/></g>
<rect x="401.74" y="246.40" width="17.8" height="13.15" fill="#BFBFBF" fill-opacity="0.9" stroke="#444" stroke-width="0.8"/>
<line x1="401.74" x2="419.54" y1="252.40" y2="252.40" stroke="#303030" stroke-width="1.1"/>
<g stroke="#3e3e3e" stroke-width="1" fill="none"><path d="M440.14 227.80V249.60M440.14 264.35V285.30M435.44 227.80H444.84M435.44 285.30H444.84"/></g>
<rect x="431.24" y="249.60" width="17.8" height="14.75" fill="#A9D18E" fill-opacity="0.9" stroke="#444" stroke-width="0.8"/>
<line x1="431.24" x2="449.04" y1="256.10" y2="256.10" stroke="#303030" stroke-width="1.1"/>
<g stroke="#3e3e3e" stroke-width="1" fill="none"><path d="M469.64 220.50V242.30M469.64 256.25V278.20M464.94 220.50H474.34M464.94 278.20H474.34"/></g>
<rect x="460.74" y="242.30" width="17.8" height="13.95" fill="#F4B183" fill-opacity="0.9" stroke="#444" stroke-width="0.8"/>
<line x1="460.74" x2="478.54" y1="248.50" y2="248.50" stroke="#303030" stroke-width="1.1"/>
<rect x="337.00" y="216.50" width="147.50" height="89.95" fill="none" stroke="#999" stroke-width="1"/>
<line x1="488.50" x2="636.10" y1="220.50" y2="220.50" stroke="#dcdcdc" stroke-width="0.5" stroke-dasharray="1.3,0.9"/>
<line x1="488.50" x2="636.10" y1="247.30" y2="247.30" stroke="#dcdcdc" stroke-width="0.5" stroke-dasharray="1.3,0.9"/>
<line x1="488.50" x2="636.10" y1="274.10" y2="274.10" stroke="#dcdcdc" stroke-width="0.5" stroke-dasharray="1.3,0.9"/>
<line x1="488.50" x2="636.10" y1="300.90" y2="300.90" stroke="#dcdcdc" stroke-width="0.5" stroke-dasharray="1.3,0.9"/>
<g stroke="#3e3e3e" stroke-width="1" fill="none"><path d="M503.41 234.50V246.60M503.41 259.25V276.90M498.71 234.50H508.11M498.71 276.90H508.11"/></g>
<rect x="494.51" y="246.60" width="17.8" height="12.65" fill="#5B9BD5" fill-opacity="0.9" stroke="#444" stroke-width="0.8"/>
<line x1="494.51" x2="512.31" y1="252.40" y2="252.40" stroke="#303030" stroke-width="1.1"/>
<g stroke="#3e3e3e" stroke-width="1" fill="none"><path d="M532.91 233.40V246.20M532.91 259.45V279.30M528.21 233.40H537.61M528.21 279.30H537.61"/></g>
<rect x="524.01" y="246.20" width="17.8" height="13.25" fill="#9DC3E6" fill-opacity="0.9" stroke="#444" stroke-width="0.8"/>
<line x1="524.01" x2="541.81" y1="252.40" y2="252.40" stroke="#303030" stroke-width="1.1"/>
<g stroke="#3e3e3e" stroke-width="1" fill="none"><path d="M562.41 228.30V246.20M562.41 259.45V278.20M557.71 228.30H567.11M557.71 278.20H567.11"/></g>
<rect x="553.51" y="246.20" width="17.8" height="13.25" fill="#BFBFBF" fill-opacity="0.9" stroke="#444" stroke-width="0.8"/>
<line x1="553.51" x2="571.31" y1="252.40" y2="252.40" stroke="#303030" stroke-width="1.1"/>
<g stroke="#3e3e3e" stroke-width="1" fill="none"><path d="M591.91 226.30V247.50M591.91 263.35V286.40M587.21 226.30H596.61M587.21 286.40H596.61"/></g>
<rect x="583.01" y="247.50" width="17.8" height="15.85" fill="#A9D18E" fill-opacity="0.9" stroke="#444" stroke-width="0.8"/>
<line x1="583.01" x2="600.81" y1="255.20" y2="255.20" stroke="#303030" stroke-width="1.1"/>
<g stroke="#3e3e3e" stroke-width="1" fill="none"><path d="M621.41 236.20V248.10M621.41 256.15V267.95M616.71 236.20H626.11M616.71 267.95H626.11"/></g>
<rect x="612.51" y="248.10" width="17.8" height="8.05" fill="#F4B183" fill-opacity="0.9" stroke="#444" stroke-width="0.8"/>
<line x1="612.51" x2="630.31" y1="252.00" y2="252.00" stroke="#303030" stroke-width="1.1"/>
<rect x="488.50" y="216.50" width="147.60" height="89.95" fill="none" stroke="#999" stroke-width="1"/>
<line x1="640.45" x2="787.90" y1="220.50" y2="220.50" stroke="#dcdcdc" stroke-width="0.5" stroke-dasharray="1.3,0.9"/>
<line x1="640.45" x2="787.90" y1="247.30" y2="247.30" stroke="#dcdcdc" stroke-width="0.5" stroke-dasharray="1.3,0.9"/>
<line x1="640.45" x2="787.90" y1="274.10" y2="274.10" stroke="#dcdcdc" stroke-width="0.5" stroke-dasharray="1.3,0.9"/>
<line x1="640.45" x2="787.90" y1="300.90" y2="300.90" stroke="#dcdcdc" stroke-width="0.5" stroke-dasharray="1.3,0.9"/>
<g stroke="#3e3e3e" stroke-width="1" fill="none"><path d="M655.18 236.00V253.30M655.18 265.30V279.70M650.48 236.00H659.88M650.48 279.70H659.88"/></g>
<rect x="646.28" y="253.30" width="17.8" height="12.00" fill="#5B9BD5" fill-opacity="0.9" stroke="#444" stroke-width="0.8"/>
<line x1="646.28" x2="664.08" y1="260.20" y2="260.20" stroke="#303030" stroke-width="1.1"/>
<g stroke="#3e3e3e" stroke-width="1" fill="none"><path d="M684.68 236.00V254.30M684.68 267.35V286.20M679.98 236.00H689.38M679.98 286.20H689.38"/></g>
<rect x="675.78" y="254.30" width="17.8" height="13.05" fill="#9DC3E6" fill-opacity="0.9" stroke="#444" stroke-width="0.8"/>
<line x1="675.78" x2="693.58" y1="261.35" y2="261.35" stroke="#303030" stroke-width="1.1"/>
<g stroke="#3e3e3e" stroke-width="1" fill="none"><path d="M714.18 227.40V244.55M714.18 258.15V277.70M709.48 227.40H718.88M709.48 277.70H718.88"/></g>
<rect x="705.28" y="244.55" width="17.8" height="13.60" fill="#BFBFBF" fill-opacity="0.9" stroke="#444" stroke-width="0.8"/>
<line x1="705.28" x2="723.08" y1="250.70" y2="250.70" stroke="#303030" stroke-width="1.1"/>
<g stroke="#3e3e3e" stroke-width="1" fill="none"><path d="M743.68 229.25V251.30M743.68 265.50V286.10M738.98 229.25H748.38M738.98 286.10H748.38"/></g>
<rect x="734.78" y="251.30" width="17.8" height="14.20" fill="#A9D18E" fill-opacity="0.9" stroke="#444" stroke-width="0.8"/>
<line x1="734.78" x2="752.58" y1="258.40" y2="258.40" stroke="#303030" stroke-width="1.1"/>
<g stroke="#3e3e3e" stroke-width="1" fill="none"><path d="M773.18 226.60V242.50M773.18 252.90V268.10M768.48 226.60H777.88M768.48 268.10H777.88"/></g>
<rect x="764.28" y="242.50" width="17.8" height="10.40" fill="#F4B183" fill-opacity="0.9" stroke="#444" stroke-width="0.8"/>
<line x1="764.28" x2="782.08" y1="247.20" y2="247.20" stroke="#303030" stroke-width="1.1"/>
<rect x="640.45" y="216.50" width="147.45" height="89.95" fill="none" stroke="#999" stroke-width="1"/>
<text class="xl" style="letter-spacing:0.2px" x="107.40" y="323.8">5ht1b</text>
<text class="xl" style="letter-spacing:0.2px" x="259.17" y="323.8">braf</text>
<text class="xl" style="letter-spacing:0px" x="410.54" y="323.8">fa7</text>
<text class="xl" style="letter-spacing:0.2px" x="562.41" y="323.8">jak2</text>
<text class="xl" style="letter-spacing:0px" x="713.68" y="323.8">parp1</text>
</svg></body></html>
